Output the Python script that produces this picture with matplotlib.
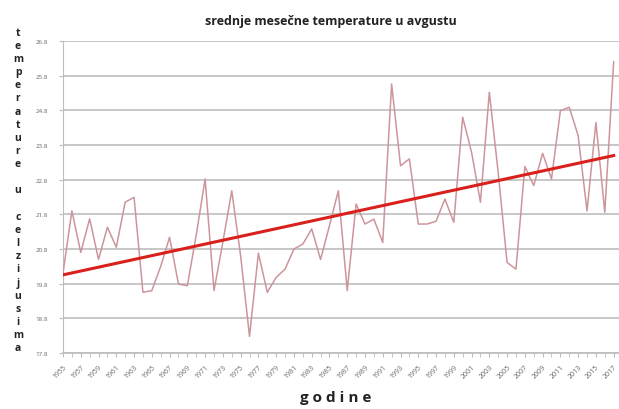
import numpy as np
from matplotlib import pyplot as plt

# years 1955..2017 and mean August temperature
years = list(range(1955, 2018))
temps = [20.1, 21.9, 20.7, 21.67, 20.5, 21.43, 20.85, 22.15, 22.29, 19.55,
         19.6, 20.3, 21.14, 19.79, 19.74, 21.2, 22.82, 19.6, 21.0, 22.48,
         20.6, 18.28, 20.68, 19.55, 19.98, 20.22, 20.8, 20.94, 21.38, 20.5,
         21.47, 22.48, 19.6, 22.1, 21.52, 21.66, 20.99, 25.56, 23.2, 23.4,
         21.52, 21.52, 21.6, 22.24, 21.57, 24.6, 23.59, 22.15, 25.32, 23.0,
         20.41, 20.22, 23.18, 22.63, 23.56, 22.82, 24.79, 24.89, 24.07, 21.9,
         24.45, 21.86, 26.2]
yticks = [17.8, 18.8, 19.8, 20.8, 21.8, 22.8, 23.8, 24.8, 25.8, 26.8]

title = "srednje mesečne temperature u avgustu"
ylabel = "temperature u celzijusima"
xlabel = "g o d i n e"

plt.rcParams['font.family'] = ['Open Sans', 'DejaVu Sans']

fig = plt.figure(figsize=(6.19, 4.10), dpi=100)
ax = fig.add_axes([63/619, 1 - 354/410, (619 - 63)/619, (354 - 42)/410])

x = np.arange(len(years))
y = np.array(temps)

# linear trend like the Excel trendline
k, n = np.polyfit(x, y, 1)

ax.plot(x, y, color='#cc959b', lw=1.1, zorder=3)
ax.plot(x, k*x + n, color='#d9201c', lw=2.2, zorder=4)

ax.set_xlim(0, len(years) - 0.4)
ax.set_ylim(17.8, 26.8)
ax.set_yticks(yticks)
ax.set_yticklabels([f"{v:.1f}" for v in yticks], fontsize=4.5, color='#666666')
ax.yaxis.grid(True, color='#bdbdbd', lw=1.2)
ax.set_axisbelow(True)

ax.set_xticks(x[::2])
ax.set_xticklabels([str(v) for v in years[::2]], rotation=45, fontsize=5,
                   color='#666666', ha='right', rotation_mode='anchor')
ax.set_xticks(x, minor=True)
ax.tick_params(axis='x', which='both', length=3, color='#bdbdbd', pad=4)
ax.tick_params(axis='y', length=3, color='#bdbdbd', pad=8)

for s in ['top', 'right']:
    ax.spines[s].set_visible(False)
ax.spines['left'].set_color('#bdbdbd')
ax.spines['bottom'].set_color('#bdbdbd')
ax.spines['bottom'].set_linewidth(1.2)

fig.text(331/619, 1 - 22/410, title, ha='center', va='center',
         fontsize=9, fontweight='bold', color='#222222')
fig.text(18/619, 1 - 191/410, "\n".join(ylabel), ha='center', va='center',
         fontsize=7.5, fontweight='bold', color='#222222', linespacing=1.27)
fig.text(336/619, 1 - 398/410, xlabel, ha='center', va='center',
         fontsize=11, fontweight='bold', color='#222222')

fig.savefig("out.png", dpi=100)
